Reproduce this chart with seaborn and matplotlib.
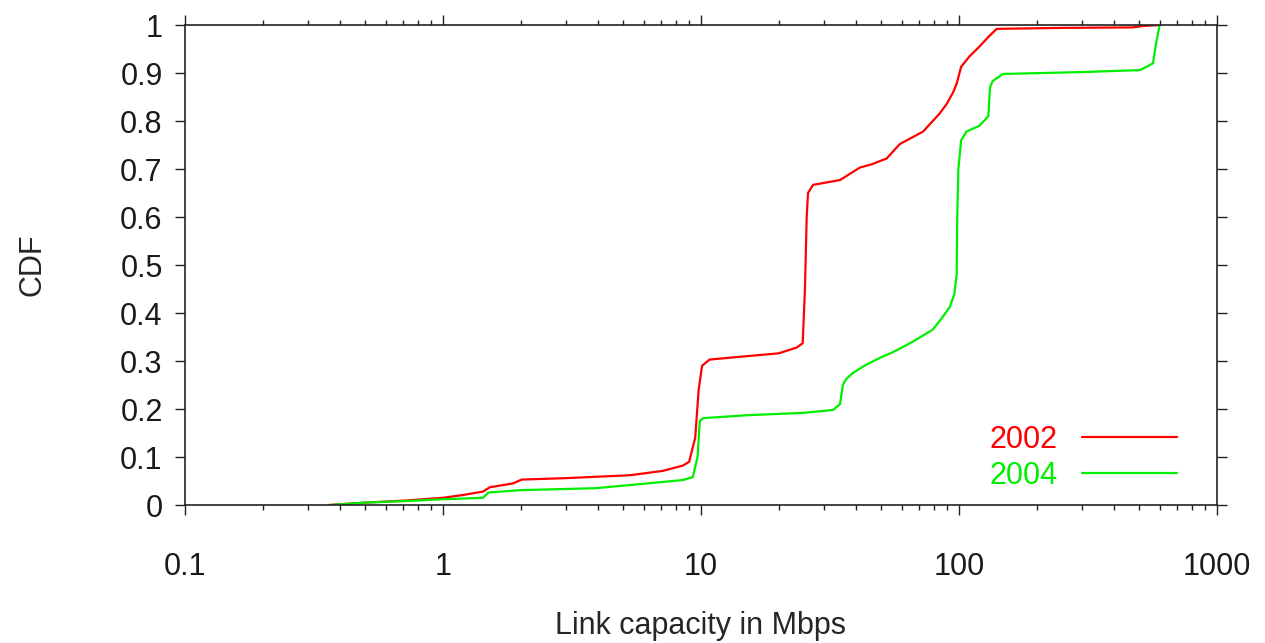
import numpy as np
import pandas as pd
import seaborn as sns
import matplotlib.pyplot as plt
from matplotlib.ticker import LogLocator, FixedLocator, NullFormatter

# CDF points (capacity in Mbps, cumulative fraction)
cap_2002 = [0.36, 0.5, 0.7, 1.0, 1.2, 1.43, 1.52, 1.87, 2.02, 3.0, 5.3, 7.1, 8.5, 9.0,
            9.5, 9.8, 10.1, 10.8, 15, 20, 23.5, 24.8, 25.3, 25.7, 26.0, 27.2, 34.6,
            41.3, 46, 52.5, 59, 72.6, 84, 89.5, 95, 98, 102, 110, 120, 130, 140, 250,
            470, 520, 600]
cdf_2002 = [0.0, 0.005, 0.009, 0.015, 0.021, 0.028, 0.037, 0.045, 0.053, 0.056, 0.062,
            0.071, 0.082, 0.090, 0.14, 0.24, 0.29, 0.303, 0.31, 0.316, 0.328, 0.337,
            0.45, 0.60, 0.65, 0.667, 0.677, 0.703, 0.71, 0.722, 0.752, 0.778, 0.815,
            0.835, 0.86, 0.878, 0.913, 0.935, 0.955, 0.975, 0.992, 0.994, 0.995,
            0.998, 1.0]

cap_2004 = [0.37, 0.5, 0.7, 1.0, 1.43, 1.5, 2.0, 3.9, 6.2, 8.5, 9.3, 9.7, 9.9, 10.2,
            15, 25, 32.5, 34.6, 35.5, 36.5, 38.8, 43.6, 50, 55.3, 64.6, 70, 79, 86,
            92.3, 96, 98, 98.5, 99.5, 102, 107, 120, 130, 132, 135, 148, 300, 503,
            565, 580, 600]
cdf_2004 = [0.0, 0.005, 0.008, 0.012, 0.015, 0.026, 0.031, 0.035, 0.045, 0.052, 0.058,
            0.10, 0.175, 0.181, 0.187, 0.192, 0.198, 0.21, 0.25, 0.262, 0.275, 0.292,
            0.308, 0.318, 0.337, 0.348, 0.365, 0.39, 0.413, 0.44, 0.48, 0.60, 0.70,
            0.76, 0.778, 0.79, 0.81, 0.87, 0.883, 0.898, 0.902, 0.906, 0.92, 0.96,
            1.0]

years = ["2002", "2004"]
colors = {"2002": "#ff0000", "2004": "#00ee00"}

df = pd.concat([
    pd.DataFrame({"cap": cap_2002, "cdf": cdf_2002, "year": "2002"}),
    pd.DataFrame({"cap": cap_2004, "cdf": cdf_2004, "year": "2004"}),
])

sns.set_theme(style="ticks")
plt.rcParams['font.family'] = ['Liberation Sans', 'DejaVu Sans']
plt.rcParams['text.color'] = '#1a1a1a'
plt.rcParams['xtick.labelcolor'] = '#1a1a1a'
plt.rcParams['ytick.labelcolor'] = '#1a1a1a'

fig = plt.figure(figsize=(12.65, 6.43), dpi=100)
ax = fig.add_axes([0.1462, 0.2146, 0.8158, 0.7465])

sns.lineplot(data=df, x="cap", y="cdf", hue="year", hue_order=years,
             palette=colors, estimator=None, sort=False, linewidth=1.6, ax=ax)

ax.set_xscale("log")
ax.set_xlim(0.1, 1000)
ax.set_ylim(0, 1)

ax.xaxis.set_major_locator(FixedLocator([0.1, 1, 10, 100, 1000]))
ax.set_xticklabels(["0.1", "1", "10", "100", "1000"])
ax.xaxis.set_minor_locator(LogLocator(base=10, subs=np.arange(2, 10)))
ax.xaxis.set_minor_formatter(NullFormatter())
ax.set_yticks(np.arange(0, 1.01, 0.1))
ax.set_yticklabels(["0", "0.1", "0.2", "0.3", "0.4", "0.5", "0.6", "0.7", "0.8", "0.9", "1"])

for s in ax.spines.values():
    s.set_visible(True)
    s.set_linewidth(1.2)
    s.set_color("#222222")

ax.tick_params(which="both", direction="out", top=True, right=True,
               color="#222222", width=1)
ax.tick_params(which="major", length=7)
ax.tick_params(which="minor", length=3.5)
ax.tick_params(axis="x", which="major", labelsize=22, pad=27)
ax.tick_params(axis="y", which="major", labelsize=22, pad=9)

ax.set_xlabel("Link capacity in Mbps", fontsize=22, labelpad=21)
ax.set_ylabel("CDF", fontsize=22, labelpad=52)

leg = ax.legend(loc="lower right", bbox_to_anchor=(0.961, 0.03), frameon=False,
                markerfirst=False, fontsize=22, handlelength=3.1, handletextpad=0.8,
                labelspacing=0.2, borderpad=0, borderaxespad=0, labelcolor="linecolor")

fig.savefig("out.png", dpi=100)
